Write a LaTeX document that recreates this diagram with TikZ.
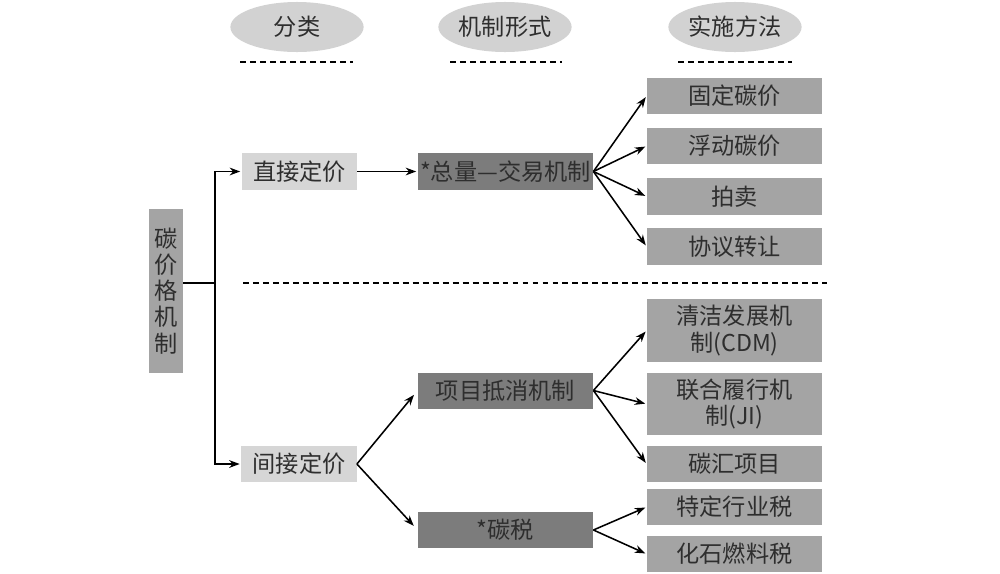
\documentclass[tikz,border=0pt]{standalone}
\usepackage{fontspec}
\setmainfont{Noto Sans CJK SC}
\usetikzlibrary{arrows.meta, positioning, shapes.geometric}

\definecolor{boxlight}{HTML}{D6D6D6}
\definecolor{boxmid}{HTML}{A4A4A4}
\definecolor{boxdark}{HTML}{7C7C7C}
\definecolor{ovalgray}{HTML}{D2D2D2}
\definecolor{txtgray}{HTML}{2E2E2E}

\begin{document}
\begin{tikzpicture}[
  x=0.025cm, y=-0.025cm,
  >=Stealth,
  % --- shared block base ---
  blkbase/.style={
    inner sep=0pt, align=center, text=txtgray,
    font=\fontsize{16.5}{18.6}\selectfont
  },
  % --- block types ---
  hdr/.style={blkbase, ellipse, fill=ovalgray, minimum width=3.33cm, minimum height=1.25cm},
  root/.style={blkbase, fill=boxmid, minimum width=0.85cm, minimum height=4.1cm},
  cls/.style={blkbase, fill=boxlight, minimum width=2.88cm, minimum height=0.92cm},
  mech/.style={blkbase, fill=boxdark, minimum width=4.38cm, minimum height=0.9cm},
  impl/.style={blkbase, fill=boxmid, minimum width=4.38cm, minimum height=0.92cm},
  impltwo/.style={impl, minimum height=1.57cm},
  % --- lines ---
  hdash/.style={line width=1.1pt, dash pattern=on 4.2pt off 2.9pt},
  divdash/.style={line width=0.9pt, dash pattern=on 4.2pt off 2.9pt},
  lnk/.style={line width=1.1pt},
  arr/.style={-{Stealth[length=7.5pt, width=5.5pt]}, line width=1.1pt, shorten >=1pt},
]
\useasboundingbox (0,0) rectangle (1000,573);

% ===================== HEADERS =====================

\node[hdr] (hcls)  at (297,27) {分类};
\node[hdr] (hmech) at (505,27) {机制形式};
\node[hdr] (himpl) at (735,27) {实施方法};

\draw[hdash] (240,62) -- (353,62);
\draw[hdash] (450,62) -- (562,62);
\draw[hdash] (678,62) -- (792,62);

% ===================== ROOT =====================

\node[root] (jia) at (166,291) {碳\\价\\格\\机\\制};
\coordinate (junc) at (215,283);

% ===================== DIRECT PRICING =====================

\node[cls]  (zhijie)  at (299.5,171.5) {直接定价};
\node[mech] (zongliang) at (505.5,171.5) {*总量—交易机制};

\node[impl] (guding) at (734.5,96)    {固定碳价};
\node[impl] (fudong) at (734.5,146)   {浮动碳价};
\node[impl] (paimai) at (734.5,196.5) {拍卖};
\node[impl] (xieyi)  at (734.5,246.5) {协议转让};

% divider
\draw[divdash] (243,283) -- (827,283);

% ===================== INDIRECT PRICING =====================

\node[cls]  (jianjie)  at (299,464)     {间接定价};
\node[mech] (xiangmu)  at (505.5,390.5) {项目抵消机制};
\node[mech] (tanshui)  at (505.5,530)   {*碳税};

\node[impltwo] (cdm)    at (734.5,330.5) {清洁发展机\\制(CDM)};
\node[impltwo] (ji)     at (734.5,404)   {联合履行机\\制(JI)};
\node[impl]    (tanhui) at (734.5,464)   {碳汇项目};
\node[impl]    (hangye) at (734.5,507)   {特定行业税};
\node[impl]    (ranliao) at (734.5,554)  {化石燃料税};

% ===================== CONNECTIONS =====================

\draw[lnk] (jia.east |- junc) -- (junc);
\draw[arr] (junc) |- (zhijie);
\draw[arr] (junc) |- (jianjie);

\draw[arr] (zhijie) -- (zongliang);
\foreach \t in {guding, fudong, paimai, xieyi}
  \draw[arr] (zongliang.east) -- (\t.west);

\draw[arr, shorten >=4pt] (jianjie.east) -- (xiangmu.west);
\draw[arr, shorten >=4pt] (jianjie.east) -- (tanshui.west);

\foreach \t in {cdm, ji, tanhui}
  \draw[arr] (xiangmu.east) -- (\t.west);
\foreach \t in {hangye, ranliao}
  \draw[arr] (tanshui.east) -- (\t.west);

\end{tikzpicture}
\end{document}
